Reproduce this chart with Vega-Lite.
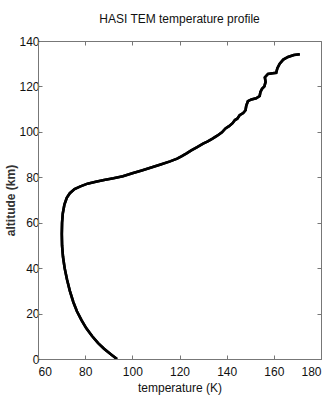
{
  "$schema": "https://vega.github.io/schema/vega-lite/v6.json",
  "width": 283,
  "height": 318,
  "autosize": "none",
  "padding": {"left": 38, "top": 41, "right": 15, "bottom": 41},
  "background": "white",
  "title": {"text": "HASI TEM temperature profile", "font": "Liberation Sans", "fontSize": 12, "fontWeight": "normal", "color": "#111", "offset": 9},
  "config": {
    "view": {"stroke": "#777", "strokeWidth": 1},
    "axis": {"labelFont": "Liberation Sans", "titleFont": "Liberation Sans", "labelFontSize": 12, "titleFontSize": 12, "titleFontWeight": "normal", "labelColor": "#111", "titleColor": "#111", "domainColor": "#777", "tickColor": "#777", "grid": false, "tickSize": -4}
  },
  "data": {"values": [
    {"T": 93.5, "alt": 0}, {"T": 91, "alt": 2}, {"T": 88, "alt": 4.5}, {"T": 85.5, "alt": 7},
    {"T": 83, "alt": 10}, {"T": 80.5, "alt": 13.5}, {"T": 78.5, "alt": 17}, {"T": 76.5, "alt": 21},
    {"T": 75, "alt": 25}, {"T": 73.5, "alt": 30}, {"T": 72.3, "alt": 35}, {"T": 71.3, "alt": 40},
    {"T": 70.6, "alt": 45}, {"T": 70.2, "alt": 50}, {"T": 70.1, "alt": 55}, {"T": 70.2, "alt": 60},
    {"T": 70.5, "alt": 64}, {"T": 71.2, "alt": 68}, {"T": 72.2, "alt": 71}, {"T": 73.5, "alt": 73},
    {"T": 75.5, "alt": 74.8}, {"T": 78, "alt": 76}, {"T": 81, "alt": 77.2}, {"T": 84.5, "alt": 78},
    {"T": 88, "alt": 78.8}, {"T": 92, "alt": 79.6}, {"T": 96, "alt": 80.5}, {"T": 100, "alt": 81.8},
    {"T": 104, "alt": 83}, {"T": 108, "alt": 84.3}, {"T": 112, "alt": 85.6}, {"T": 116, "alt": 87},
    {"T": 119, "alt": 88.2}, {"T": 121, "alt": 89.3}, {"T": 123, "alt": 90.5}, {"T": 125, "alt": 91.8},
    {"T": 127.5, "alt": 93.3}, {"T": 130, "alt": 94.8}, {"T": 132, "alt": 95.8}, {"T": 134, "alt": 97},
    {"T": 136, "alt": 98.3}, {"T": 138, "alt": 99.8}, {"T": 139.5, "alt": 101.5}, {"T": 141, "alt": 102.5},
    {"T": 142.5, "alt": 103.8}, {"T": 143.5, "alt": 105.2}, {"T": 144.5, "alt": 105.8}, {"T": 145.5, "alt": 107.3},
    {"T": 147, "alt": 108.3}, {"T": 148, "alt": 109.5}, {"T": 148.3, "alt": 111.5}, {"T": 149, "alt": 113.5},
    {"T": 150.5, "alt": 114.3}, {"T": 152.5, "alt": 114.8}, {"T": 154, "alt": 115.8}, {"T": 154.3, "alt": 117.5},
    {"T": 155, "alt": 119}, {"T": 156, "alt": 120}, {"T": 156.5, "alt": 122}, {"T": 156.2, "alt": 124},
    {"T": 157.5, "alt": 125.5}, {"T": 159.5, "alt": 125.8}, {"T": 161, "alt": 126}, {"T": 161.5, "alt": 128},
    {"T": 162.5, "alt": 130}, {"T": 164, "alt": 131.8}, {"T": 166, "alt": 133}, {"T": 168.5, "alt": 133.8},
    {"T": 171, "alt": 134.2}
  ]},
  "layer": [
    {
      "mark": {"type": "line", "color": "black", "strokeWidth": 2.6, "clip": true},
      "encoding": {
        "x": {"field": "T", "type": "quantitative", "scale": {"domain": [60, 180], "nice": false, "zero": false}, "axis": {"values": [60, 80, 100, 120, 140, 160, 180], "title": "temperature (K)", "labelPadding": 11, "titlePadding": 5}},
        "y": {"field": "alt", "type": "quantitative", "scale": {"domain": [0, 140], "nice": false}, "axis": {"values": [0, 20, 40, 60, 80, 100, 120, 140], "title": "altitude (km)", "labelPadding": 3, "titlePadding": 1, "titleFontWeight": "bold", "titleColor": "#333"}},
        "order": {"field": "alt", "type": "quantitative"}
      }
    },
    {
      "mark": {"type": "line", "color": "black", "strokeWidth": 2.6, "clip": true},
      "encoding": {
        "x": {"field": "T", "type": "quantitative", "axis": {"orient": "top", "values": [60, 80, 100, 120, 140, 160, 180], "labels": false, "title": null, "domain": false}},
        "y": {"field": "alt", "type": "quantitative", "axis": {"orient": "right", "values": [0, 20, 40, 60, 80, 100, 120, 140], "labels": false, "title": null, "domain": false}},
        "order": {"field": "alt", "type": "quantitative"}
      }
    }
  ],
  "resolve": {"axis": {"x": "independent", "y": "independent"}}
}
